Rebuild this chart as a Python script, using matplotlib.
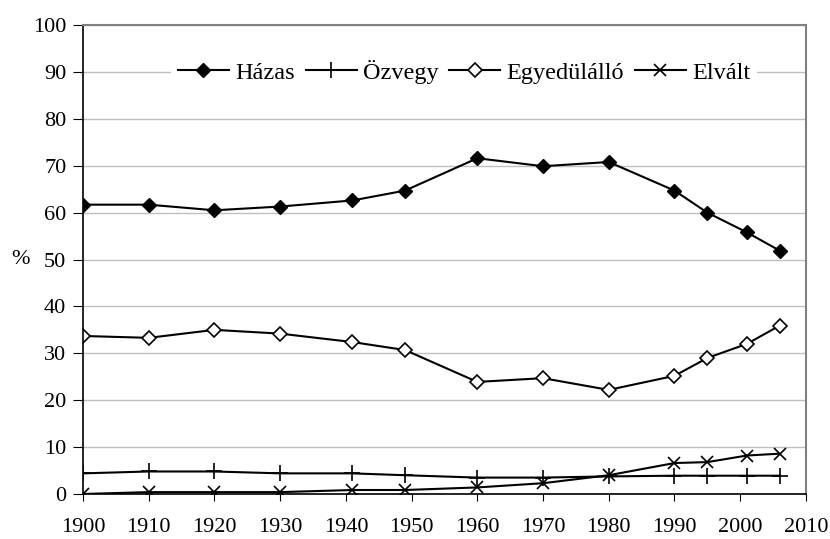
import numpy as np
import matplotlib.pyplot as plt

# Data (percent of population by marital status).
years = [1900, 1910, 1920, 1930, 1941, 1949, 1960, 1970, 1980, 1990, 1995, 2001, 2006]
hazas = [61.7, 61.7, 60.5, 61.3, 62.6, 64.7, 71.6, 69.9, 70.8, 64.7, 60.0, 55.8, 51.9]
ozvegy = [4.4, 4.8, 4.8, 4.4, 4.4, 4.0, 3.5, 3.5, 3.75, 3.9, 3.9, 3.9, 3.9]
egyedulallo = [33.7, 33.3, 35.0, 34.2, 32.4, 30.7, 23.9, 24.7, 22.2, 25.2, 29.0, 32.0, 35.9]
elvalt = [0.0, 0.4, 0.4, 0.4, 0.85, 0.85, 1.4, 2.3, 4.0, 6.6, 6.8, 8.2, 8.6]

labels = ['Házas', 'Özvegy', 'Egyedülálló', 'Elvált']
xticks = np.arange(1900, 2011, 10)
yticks = np.arange(0, 101, 10)

plt.rcParams['font.family'] = ['Liberation Serif', 'DejaVu Serif']
plt.rcParams['font.size'] = 16

fig = plt.figure(figsize=(8.3, 5.39), dpi=100)
ax = fig.add_axes([0.1, 0.0835, 0.871, 0.870])

ax.plot(years, hazas, color='black', lw=1.5, marker='D', markersize=7,
        markerfacecolor='black', label=labels[0])
ax.plot(years, ozvegy, color='black', lw=1.5, marker='+', markersize=11,
        markeredgewidth=1.2, label=labels[1])
ax.plot(years, egyedulallo, color='black', lw=1.5, marker='D', markersize=7,
        markerfacecolor='white', markeredgewidth=1.2, label=labels[2])
ax.plot(years, elvalt, color='black', lw=1.5, marker='x', markersize=9,
        markeredgewidth=1.2, label=labels[3])

ax.set_xlim(1900, 2010)
ax.set_ylim(0, 100)
ax.set_xticks(xticks)
ax.set_yticks(yticks)
ax.tick_params(axis='x', direction='out', length=5, pad=12)
ax.tick_params(axis='y', direction='out', length=7, pad=5)
ax.grid(axis='y', color='#c0c0c0', lw=1)
ax.set_axisbelow(True)

for s in ['top', 'right']:
    ax.spines[s].set_color('#808080')
    ax.spines[s].set_linewidth(1.5)
for s in ['left', 'bottom']:
    ax.spines[s].set_color('black')
    ax.spines[s].set_linewidth(1.2)

ax.set_ylabel('%', rotation=0, labelpad=9, va='center')

leg = ax.legend(loc='center', bbox_to_anchor=(0.527, 0.9), ncol=4,
                handlelength=2.1, handletextpad=0.25, columnspacing=0.45,
                frameon=True, fancybox=False, borderpad=0.3, fontsize=17.5)
leg.get_frame().set_facecolor('white')
leg.get_frame().set_edgecolor('none')
leg.get_frame().set_alpha(1)

fig.savefig('out.png', dpi=100)
